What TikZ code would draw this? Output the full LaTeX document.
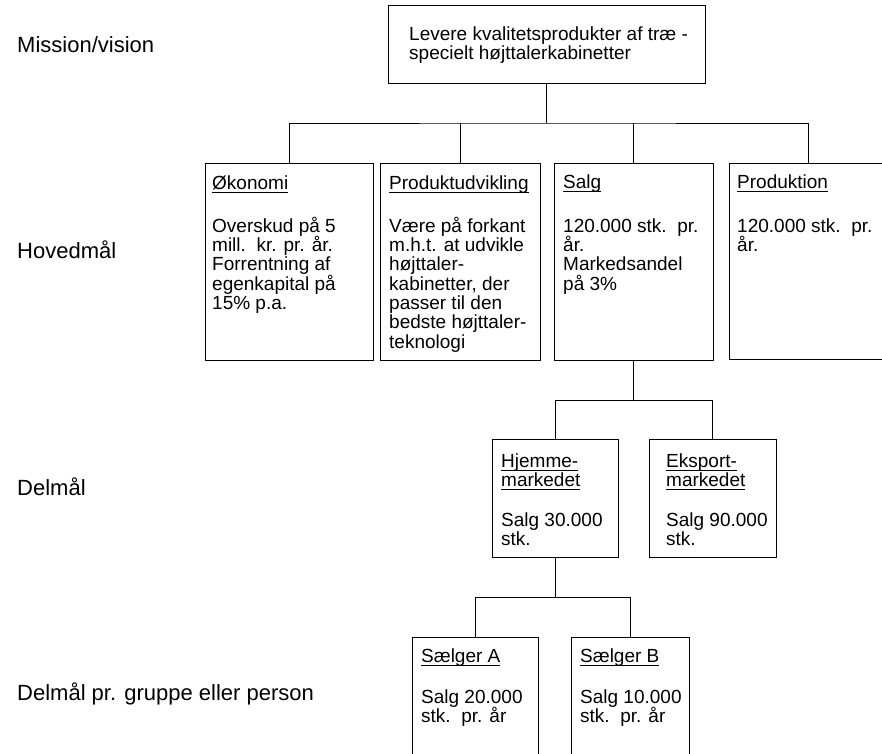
\documentclass[tikz,border=0pt]{standalone}
\usepackage{fontspec}
\setmainfont{Liberation Sans}
% text inside the goal boxes and the level labels on the left
\newcommand\boxfont{\fontsize{19}{19.3}\selectfont\lineskiplimit=-30pt\relax}
\newcommand\levelfont{\fontsize{22}{24}\selectfont}
% underline placed just under the baseline, crossing the descenders
\newcommand\ulx[1]{\setbox0\hbox{#1}\rlap{\rule[-3.2pt]{\wd0}{0.9pt}}\box0}
% fixed height of a first line, so that its baseline lies 18pt below the node top
\newcommand\fl{\rule{0pt}{18pt}}
\begin{document}
\begin{tikzpicture}[x=1pt,y=-1pt,
  goal/.style={draw, line width=1pt, rectangle, inner sep=0pt, outer sep=0pt, anchor=north west},
  txt/.style={inner sep=0pt, anchor=north west, align=left, font=\boxfont},
  level/.style={inner sep=0pt, anchor=base west, font=\levelfont},
  link/.style={line width=1pt}]
\useasboundingbox (0,0) rectangle (882,753);

% level labels
\node[level] (lvMission) at (17,52)  {Mission/vision};
\node[level] (lvHoved)   at (17,258) {Hovedmål};
\node[level] (lvDel)     at (17,495) {Delmål};
\node[level] (lvPerson)  at (17,700) {Delmål pr. gruppe eller person};

% boxes
\node[goal, minimum width=317pt, minimum height=78pt]  (mission)    at (388,5)   {};
\node[goal, minimum width=168pt, minimum height=197pt] (okonomi)    at (205,163) {};
\node[goal, minimum width=160pt, minimum height=197pt] (produkt)    at (380,163) {};
\node[goal, minimum width=159pt, minimum height=197pt] (salg)       at (554,163) {};
\node[goal, minimum width=158pt, minimum height=196pt] (produktion) at (729,163) {};
\node[goal, minimum width=126pt, minimum height=118pt] (hjemme)     at (492,439) {};
\node[goal, minimum width=127pt, minimum height=118pt] (eksport)    at (649,439) {};
\node[goal, minimum width=126pt, minimum height=140pt] (saelgerA)   at (412,637) {};
\node[goal, minimum width=118pt, minimum height=140pt] (saelgerB)   at (571,637) {};

% connectors
\draw[link] (mission.south) -- ++(0,40) coordinate (busA);
\draw[link] (okonomi.north) |- (busA) -| (produktion.north);
\draw[link] (produkt.north) -- (produkt.north |- busA);
\draw[link] (salg.north) -- (salg.north |- busA);
\draw[link] (salg.south) -- ++(0,40) coordinate (busB);
\draw[link] (hjemme.north) |- (busB) -| (eksport.north);
\draw[link] (hjemme.south) -- ++(0,40) coordinate (busC);
\draw[link] (saelgerA.north) |- (busC) -| (saelgerB.north);

% mission text
\node[txt] (tMission) at (409,22) {\fl Levere kvalitetsprodukter af træ -\\specielt højttalerkabinetter};

% main goals
\node[txt] (hOkonomi) at (212,171) {\fl\ulx{Økonomi}};
\node[txt] (bOkonomi) at (212,214) {\fl Overskud på 5\\mill.\ \ kr. pr. år.\\Forrentning af\\egenkapital på\\15\% p.a.};

\node[txt] (hProdukt) at (389,171) {\fl\ulx{Produktudvikling}};
\node[txt] (bProdukt) at (389,214) {\fl Være på forkant\\m.h.t. at udvikle\\højttaler-\\kabinetter, der\\passer til den\\bedste højttaler-\\teknologi};

\node[txt] (hSalg) at (563,170) {\fl\ulx{Salg}};
\node[txt] (bSalg) at (563,214) {\fl 120.000 stk.\ \ pr.\\år.\\Markedsandel\\på 3\%};

\node[txt] (hProduktion) at (737,170) {\fl\ulx{Produktion}};
\node[txt] (bProduktion) at (737,214) {\fl 120.000 stk.\ \ pr.\\år.};

% sub goals
\node[txt] (hHjemme) at (501,449) {\fl\ulx{Hjemme-}\\\ulx{markedet}};
\node[txt] (bHjemme) at (501,508) {\fl Salg 30.000\\stk.};

\node[txt] (hEksport) at (666,449) {\fl\ulx{Eksport-}\\\ulx{markedet}};
\node[txt] (bEksport) at (666,508) {\fl Salg 90.000\\stk.};

% goals per group or person
\node[txt] (hSaelgerA) at (421,644) {\fl\ulx{Sælger A}};
\node[txt] (bSaelgerA) at (421,685) {\fl Salg 20.000\\stk.\ \ pr. år};

\node[txt] (hSaelgerB) at (580,644) {\fl\ulx{Sælger B}};
\node[txt] (bSaelgerB) at (580,685) {\fl Salg 10.000\\stk.\ \ pr. år};
\end{tikzpicture}
\end{document}
